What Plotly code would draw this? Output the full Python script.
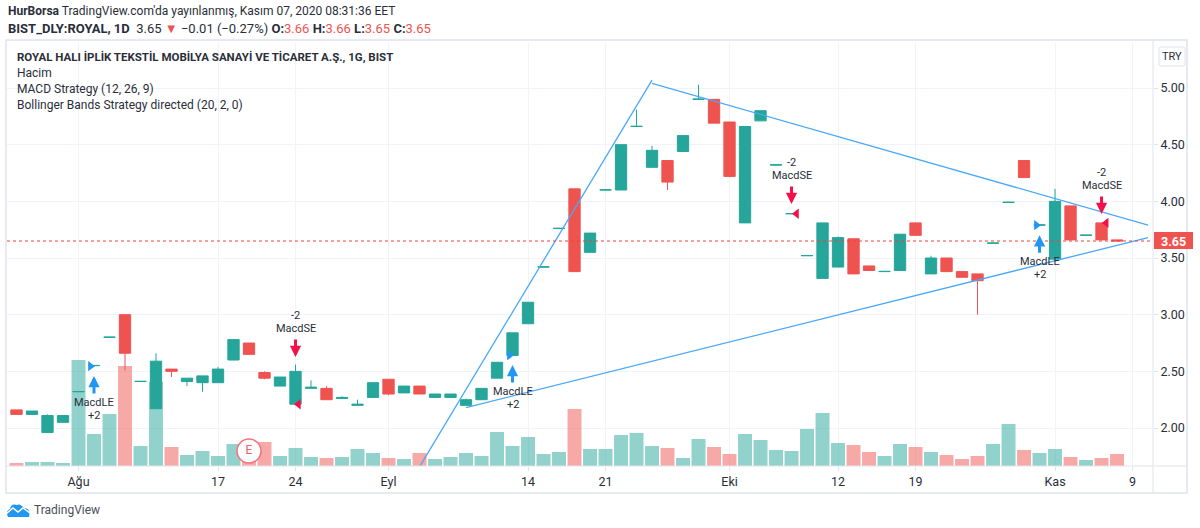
import plotly.graph_objects as go

# daily bars
opens = [2.16, 2.12, 1.96, 2.05, 2.32, 2.55, 2.80, 3.00, 2.41, 2.17, 2.52, 2.41, 2.40, 2.40, 2.60, 2.75, 2.49, 2.37,
         2.21, 2.35, 2.35, 2.26, 2.20, 2.27, 2.43, 2.31, 2.37, 2.27, 2.27, 2.20, 2.25, 2.44, 2.64, 2.92, 3.42, 3.76,
         4.11, 3.55, 4.10, 4.10, 4.66, 4.30, 4.36, 4.44, 4.90, 4.90, 4.70, 3.81, 4.71, 4.32, 3.89, 3.52, 3.32, 3.42,
         3.67, 3.43, 3.38, 3.39, 3.81, 3.36, 3.50, 3.38, 3.36, 3.63, 3.99, 4.36, 3.79, 3.49, 3.96, 3.70, 3.81, 3.66]
highs = [2.16, 2.15, 2.12, 2.11, 2.322, 2.552, 2.802, 3.00, 2.412, 2.66, 2.52, 2.44, 2.46, 2.54, 2.78, 2.75, 2.50, 2.45,
         2.56, 2.42, 2.37, 2.28, 2.25, 2.40, 2.43, 2.37, 2.37, 2.30, 2.30, 2.26, 2.35, 2.58, 2.84, 3.11, 3.422, 3.762,
         4.11, 3.72, 4.102, 4.50, 4.81, 4.49, 4.36, 4.58, 5.03, 4.90, 4.70, 4.66, 4.80, 4.322, 3.892, 3.522, 3.81, 3.69,
         3.67, 3.43, 3.382, 3.71, 3.81, 3.52, 3.50, 3.38, 3.36, 3.632, 3.992, 4.36, 3.792, 4.11, 3.96, 3.702, 3.81, 3.66]
lows = [2.12, 2.12, 1.96, 2.05, 2.32, 2.55, 2.80, 2.51, 2.41, 2.17, 2.45, 2.37, 2.32, 2.40, 2.60, 2.65, 2.43, 2.37,
        2.21, 2.35, 2.25, 2.26, 2.20, 2.27, 2.29, 2.31, 2.30, 2.27, 2.27, 2.20, 2.25, 2.44, 2.64, 2.92, 3.42, 3.76,
        3.38, 3.55, 4.10, 4.10, 4.66, 4.30, 4.10, 4.44, 4.90, 4.69, 4.22, 3.81, 4.71, 4.32, 3.89, 3.52, 3.32, 3.42,
        3.36, 3.39, 3.38, 3.39, 3.70, 3.36, 3.38, 3.33, 3.00, 3.63, 3.99, 4.21, 3.79, 3.49, 3.66, 3.70, 3.66, 3.65]
closes = [2.12, 2.15, 2.11, 2.11, 2.322, 2.552, 2.802, 2.66, 2.412, 2.59, 2.50, 2.44, 2.46, 2.52, 2.78, 2.65, 2.44, 2.45,
          2.50, 2.36, 2.25, 2.27, 2.21, 2.40, 2.30, 2.37, 2.30, 2.30, 2.30, 2.25, 2.35, 2.58, 2.84, 3.11, 3.422, 3.762,
          3.38, 3.72, 4.102, 4.50, 4.662, 4.45, 4.17, 4.58, 4.902, 4.69, 4.22, 4.66, 4.80, 4.322, 3.892, 3.522, 3.81, 3.68,
          3.36, 3.39, 3.382, 3.71, 3.70, 3.50, 3.38, 3.33, 3.30, 3.632, 3.992, 4.21, 3.792, 4.00, 3.66, 3.702, 3.66, 3.65]
volumes = [3, 4, 4, 3, 106, 32, 52, 100, 20, 84, 19, 11, 15, 10, 22, 18, 24, 10,
           18, 9, 8, 9, 17, 13, 8, 7, 13, 7, 9, 13, 10, 34, 20, 29, 12, 14,
           57, 17, 17, 31, 33, 20, 18, 8, 27, 19, 12, 32, 26, 16, 15, 37, 53, 23,
           21, 14, 10, 22, 19, 14, 11, 7, 10, 22, 42, 16, 13, 17, 9, 6, 8, 12]
bars = list(range(len(closes)))

x_ticks = [4, 13, 18, 24, 33, 38, 46, 53, 58, 67, 72]
x_labels = ['Ağu', '17', '24', 'Eyl', '14', '21', 'Eki', '12', '19', 'Kas', '9']
y_ticks = [2.00, 2.50, 3.00, 3.50, 4.00, 4.50, 5.00]
last_price = 3.65

# hand drawn trend lines
rise_x, rise_y = [26.03, 41.0], [1.664, 5.07]
fall_x, fall_y = [41.0, 73.0], [5.04, 3.79]
support_x, support_y = [29.0, 73.0], [2.18, 3.68]

# strategy signals
long_bars, long_tips = [5, 32, 66], [2.458, 2.555, 3.70]
short_bars, short_tips = [18, 50, 70], [2.626, 3.976, 3.888]
long_tri_x, long_tri_y = [4.77, 31.8, 65.8], [2.546, 2.643, 3.79]
short_tri_x, short_tri_y = [18.19, 50.32, 70.3], [2.21, 3.89, 3.81]

TEAL = '#26a69a'
RED = '#ef5350'
BLUE = '#2196f3'
PINK = '#f5104a'
LINE = '#e0e3eb'
GRID = '#f0f3fa'
TEXT = '#2a2e39'
FONT = 'Roboto'

L, R, T, B = 7, 1153, 43, 466


def px(x):
    return (x - L) / (R - L)


def py(y):
    return (B - y) / (B - T)


def pt(x, y):
    return '%f,%f' % (px(x), py(y))


vol_colors = ['rgba(38,166,154,0.5)' if c >= o else 'rgba(239,83,80,0.5)' for o, c in zip(opens, closes)]

fig = go.Figure()

fig.add_trace(go.Bar(x=bars, y=volumes, marker=dict(color=vol_colors, line_width=0), yaxis='y'))

# earnings badge sits on the volume pane
fig.add_trace(go.Scatter(
    x=[15], y=[15], mode='markers+text', text=['E'], textposition='middle center',
    textfont=dict(color='#f0606a', size=12, family=FONT),
    marker=dict(size=24, color='white', line=dict(color='#f7707a', width=1.5)),
    yaxis='y'
))

fig.add_trace(go.Candlestick(
    x=bars, open=opens, high=highs, low=lows, close=closes, yaxis='y2',
    increasing=dict(line=dict(color=TEAL, width=1), fillcolor=TEAL),
    decreasing=dict(line=dict(color=RED, width=1), fillcolor=RED),
))

for lx, ly in [(rise_x, rise_y), (fall_x, fall_y), (support_x, support_y)]:
    fig.add_trace(go.Scatter(x=lx, y=ly, mode='lines', line=dict(color='#4aa8f7', width=1.3), yaxis='y2'))

fig.add_trace(go.Scatter(x=long_tri_x, y=long_tri_y, mode='markers', yaxis='y2',
                         marker=dict(symbol='triangle-right', size=9, color=BLUE)))
fig.add_trace(go.Scatter(x=short_tri_x, y=short_tri_y, mode='markers', yaxis='y2',
                         marker=dict(symbol='triangle-left', size=9, color=PINK)))

notes = []
for b, tip in zip(long_bars, long_tips):
    notes.append(dict(x=b, y=tip, xref='x', yref='y2', text='', showarrow=True, ax=0, ay=19, arrowhead=2,
                      arrowsize=0.75, arrowwidth=3, arrowcolor=BLUE))
    notes.append(dict(x=b, y=tip, xref='x', yref='y2', text='MacdLE', showarrow=False, yshift=-26,
                      font=dict(size=11, color=TEXT, family=FONT)))
    notes.append(dict(x=b, y=tip, xref='x', yref='y2', text='+2', showarrow=False, yshift=-39,
                      font=dict(size=11, color=TEXT, family=FONT)))
for b, tip in zip(short_bars, short_tips):
    notes.append(dict(x=b, y=tip, xref='x', yref='y2', text='', showarrow=True, ax=0, ay=-19, arrowhead=2,
                      arrowsize=0.75, arrowwidth=3, arrowcolor=PINK))
    notes.append(dict(x=b, y=tip, xref='x', yref='y2', text='MacdSE', showarrow=False, yshift=29,
                      font=dict(size=11, color=TEXT, family=FONT)))
    notes.append(dict(x=b, y=tip, xref='x', yref='y2', text='-2', showarrow=False, yshift=42,
                      font=dict(size=11, color=TEXT, family=FONT)))

header1 = "<b>HurBorsa</b> TradingView.com'da yayınlanmış, Kasım 07, 2020 08:31:36 EET"
header2 = ("<b>BIST_DLY:ROYAL, 1D</b>  3.65 <span style='color:#ef5350'>▼</span> −0.01 (−0.27%) "
           "<b>O:</b><span style='color:#ef5350'>3.66</span> <b>H:</b><span style='color:#ef5350'>3.66</span> "
           "<b>L:</b><span style='color:#ef5350'>3.65</span> <b>C:</b><span style='color:#ef5350'>3.65</span>")
for text, x, y, size, color in [
    (header1, 6, 11, 12, TEXT),
    (header2, 6, 28, 13, TEXT),
    ('<b>ROYAL HALI İPLİK TEKSTİL MOBİLYA SANAYİ VE TİCARET A.Ş., 1G, BIST</b>', 15, 57, 11.5, TEXT),
    ('Hacim', 15, 73, 12, TEXT),
    ('MACD Strategy (12, 26, 9)', 15, 89, 12, TEXT),
    ('Bollinger Bands Strategy directed (20, 2, 0)', 15, 105, 12, TEXT),
    ('TradingView', 32, 510, 12, '#4a4f5c'),
]:
    notes.append(dict(x=px(x), y=py(y), xref='paper', yref='paper', text=text, showarrow=False,
                      xanchor='left', yanchor='middle', font=dict(size=size, color=color, family=FONT)))
notes.append(dict(x=px(1172), y=py(56.5), xref='paper', yref='paper', text='TRY', showarrow=False,
                  xanchor='center', yanchor='middle', font=dict(size=11, color=TEXT, family=FONT)))
notes.append(dict(x=px(1173), y=last_price, xref='paper', yref='y2', text='<b>%.2f</b>' % last_price,
                  showarrow=False, xanchor='center', yanchor='middle',
                  font=dict(size=12.5, color='white', family=FONT)))

# cloud logo, bottom left
logo = ('M ' + pt(8, 517) + ' Q ' + pt(5, 511) + ' ' + pt(10, 509) + ' Q ' + pt(11, 503) + ' ' + pt(17, 505)
        + ' Q ' + pt(20, 503) + ' ' + pt(24, 508) + ' Q ' + pt(31, 508) + ' ' + pt(29, 517) + ' Z')
zigzag = 'M ' + pt(6, 514) + ' L ' + pt(13, 508) + ' L ' + pt(18, 512) + ' L ' + pt(23, 508) + ' L ' + pt(30, 513)
try_box = ('M ' + pt(1161, 47) + ' L ' + pt(1183, 47) + ' Q ' + pt(1185, 47) + ' ' + pt(1185, 49)
           + ' L ' + pt(1185, 64) + ' Q ' + pt(1185, 66) + ' ' + pt(1183, 66) + ' L ' + pt(1161, 66)
           + ' Q ' + pt(1159, 66) + ' ' + pt(1159, 64) + ' L ' + pt(1159, 49) + ' Q ' + pt(1159, 47) + ' '
           + pt(1161, 47) + ' Z')

shapes = [
    dict(type='line', xref='paper', yref='y2', x0=0, x1=1, y0=last_price, y1=last_price,
         line=dict(color='#f0403d', width=1, dash='dot')),
    dict(type='rect', xref='paper', yref='paper', x0=px(6), x1=px(1187), y0=py(40), y1=py(493),
         line=dict(color=LINE, width=1.5)),
    dict(type='line', xref='paper', yref='paper', x0=px(R), x1=px(R), y0=py(40), y1=py(493),
         line=dict(color=LINE, width=1)),
    dict(type='line', xref='paper', yref='paper', x0=px(6), x1=px(1187), y0=py(B), y1=py(B),
         line=dict(color=LINE, width=1)),
    dict(type='path', xref='paper', yref='paper', path=try_box, line=dict(color=LINE, width=1), fillcolor='white'),
    dict(type='rect', xref='paper', yref='paper', x0=px(1154), x1=px(1193), y0=py(232), y1=py(249),
         line=dict(color=RED, width=0), fillcolor=RED),
    dict(type='path', xref='paper', yref='paper', path=logo, line=dict(width=0), fillcolor=BLUE),
    dict(type='path', xref='paper', yref='paper', path=zigzag, line=dict(color='white', width=1.5)),
]

fig.update_layout(
    width=1200, height=528,
    margin=dict(l=L, r=1200 - R, t=T, b=528 - B),
    paper_bgcolor='white', plot_bgcolor='white',
    showlegend=False, bargap=0.1, boxgap=0.27, boxgroupgap=0,
    font=dict(family=FONT, size=12.5, color=TEXT),
    xaxis=dict(range=[-0.613, 73.32], tickmode='array', tickvals=x_ticks, ticktext=x_labels, tickangle=0,
               showgrid=True, gridcolor=GRID, gridwidth=1, zeroline=False, rangeslider=dict(visible=False),
               ticks='outside', ticklen=4, tickcolor=LINE, showline=False),
    yaxis=dict(range=[0, 423], visible=False, fixedrange=True),
    yaxis2=dict(range=[1.665, 5.397], overlaying='y', side='right', anchor='x', tickmode='array',
                tickvals=y_ticks, ticktext=['%.2f' % v for v in y_ticks], showgrid=True, gridcolor=GRID,
                gridwidth=1, zeroline=False, ticks='outside', ticklen=4, tickcolor=LINE, showline=False),
    annotations=notes, shapes=shapes,
)

fig.write_html("out.html", config=dict(displayModeBar=False), post_script="document.body.style.margin='0'")
